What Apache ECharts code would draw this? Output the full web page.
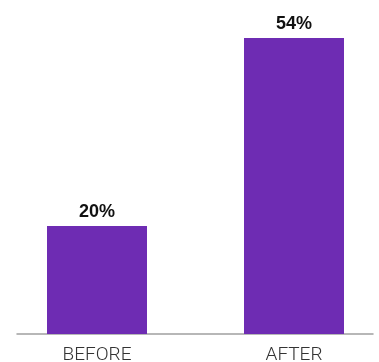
<!DOCTYPE html>
<html>
<head>
<meta charset="utf-8">
<script src="https://cdn.jsdelivr.net/npm/echarts@6/dist/echarts.min.js"></script>
<style>
html,body{margin:0;padding:0;background:#fff;}
#c{width:379px;height:362px;}
</style>
</head>
<body>
<div id="c"></div>
<script>
const categories = ['BEFORE', 'AFTER'];
const values = [19.7, 54.0];
const yMax = 54;

const chart = echarts.init(document.getElementById('c'), null, {renderer: 'canvas'});
chart.setOption({
  animation: false,
  backgroundColor: '#ffffff',
  grid: [
    {left: -1.5, right: -13.5, top: 38, bottom: 28, outerBoundsMode: 'none', containLabel: false},
    {left: 17, right: 6, top: 38, bottom: 28, outerBoundsMode: 'none', containLabel: false}
  ],
  xAxis: [
    {
      type: 'category', gridIndex: 0, data: categories,
      axisLine: {show: false}, axisTick: {show: false},
      axisLabel: {color: '#333333', fontFamily: 'Roboto', fontWeight: 300, fontSize: 19, margin: 12}
    },
    {
      type: 'category', gridIndex: 1, data: ['', ''],
      axisLine: {show: true, lineStyle: {color: '#a0a0a0', width: 1.5}},
      axisTick: {show: false}, axisLabel: {show: false}, splitLine: {show: false}
    }
  ],
  yAxis: [
    {type: 'value', gridIndex: 0, min: 0, max: yMax, show: false, splitLine: {show: false}},
    {type: 'value', gridIndex: 1, min: 0, max: yMax, show: false, splitLine: {show: false}}
  ],
  series: [{
    type: 'bar',
    xAxisIndex: 0, yAxisIndex: 0,
    data: values,
    barWidth: 100,
    itemStyle: {color: '#6e2cb3'},
    label: {
      show: true, position: 'top', distance: 5,
      color: '#111111', fontFamily: 'Liberation Sans, Arial, sans-serif',
      fontWeight: 'bold', fontSize: 18,
      formatter: p => Math.round(p.value) + '%'
    }
  }]
});
</script>
</body>
</html>
